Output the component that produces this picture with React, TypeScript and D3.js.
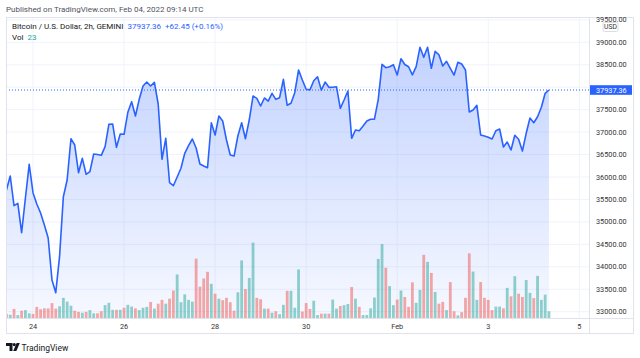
import React from 'react';
import * as d3 from 'd3';

const W = 640;
const H = 358;

// 2h bars, starting Jan 23 2022 10:00 UTC
const startTime = Date.UTC(2022, 0, 23, 10);
const barMs = 2 * 3600 * 1000;

const prices = [
  35710, 36022, 35361, 35414, 34759, 35532, 36283, 35650, 35398, 35198,
  34931, 34641, 33706, 33423, 34225, 35561, 35933, 36853, 36712, 36096,
  36416, 36060, 36118, 36512, 36501, 36483, 36675, 37173, 37180, 36661,
  36957, 36951, 37441, 37677, 37358, 37730, 38026, 38115, 38026, 38109,
  37626, 36394, 36862, 35873, 35806, 36000, 36194, 36528, 36697, 36846,
  36646, 36289, 36245, 36207, 37209, 36935, 37358, 37247, 36824, 36490,
  36467, 36913, 37209, 36853, 37269, 37804, 37752, 37581, 37760, 37692,
  37864, 37730, 37766, 38176, 37597, 37641, 37877, 38383, 38160, 37953,
  37940, 38144, 38233, 37935, 38115, 37997, 38000, 38011, 37530, 37715,
  37915, 36862, 37046, 37031, 37136, 37247, 37285, 37290, 37725, 38510,
  38434, 38456, 38501, 38271, 38634, 38505, 38456, 38275, 38460, 38888,
  38665, 38890, 38421, 38799, 38723, 38472, 38576, 38420, 38270, 38554,
  38516, 38383, 37447, 37492, 37597, 36935, 36913, 36884, 36846, 37031,
  37069, 36668, 36779, 36601, 36930, 36839, 36579, 36973, 37314, 37209,
  37343, 37552, 37864, 37937.36,
];

const volumes = [
  14, 11, 31, 10, 25, 27, 16, 14, 38, 30,
  33, 33, 51, 32, 40, 69, 56, 42, 25, 21,
  18, 21, 27, 16, 16, 23, 44, 52, 28, 28,
  28, 35, 45, 39, 33, 27, 35, 38, 55, 32,
  49, 62, 49, 66, 94, 149, 54, 81, 62, 56,
  203, 107, 135, 158, 117, 83, 66, 61, 69, 54,
  25, 88, 197, 99, 137, 258, 69, 64, 32, 32,
  18, 23, 13, 45, 93, 93, 35, 166, 22, 51,
  31, 59, 10, 15, 15, 15, 63, 32, 41, 44,
  48, 106, 66, 38, 10, 10, 33, 70, 202, 253,
  172, 109, 44, 63, 94, 72, 38, 122, 52, 96,
  216, 192, 154, 89, 49, 55, 27, 123, 23, 9,
  20, 69, 221, 159, 62, 123, 69, 62, 27, 39,
  39, 33, 103, 74, 143, 83, 72, 130, 86, 68,
  144, 62, 80, 23,
];

const priceTicks = [33000, 33500, 34000, 34500, 35000, 35500, 36000, 36500, 37000, 37500, 38000, 38500, 39000, 39500];
const timeTickDates = [
  Date.UTC(2022, 0, 24), Date.UTC(2022, 0, 26), Date.UTC(2022, 0, 28), Date.UTC(2022, 0, 30),
  Date.UTC(2022, 1, 1), Date.UTC(2022, 1, 3), Date.UTC(2022, 1, 5),
];
const timeTickLabels = ['24', '26', '28', '30', 'Feb', '3', '5'];

const headerText = 'Published on TradingView.com, Feb 04, 2022 09:14 UTC';
const symbolText = 'Bitcoin / U.S. Dollar, 2h, GEMINI';
const lastPriceText = '37937.36';
const changeText = '+62.45 (+0.16%)';
const volLabel = 'Vol';
const lastVolText = '23';

const FONT = "Roboto, 'Noto Sans', sans-serif";
const BLUE = '#2962ff';
const TEAL = '#26a69a';
const RED = '#ef5350';
const GRID = '#f0f3fa';
const BORDER = '#e0e3eb';
const TEXT = '#131722';

// layout
const paneL = 6, paneR = 589, paneT = 17, paneB = 318;
const axisB = 334, frameR = 634;

export default function App() {
  const times = prices.map((_, i) => new Date(startTime + i * barMs));
  const x = d3.scaleUtc()
    .domain([new Date(Date.UTC(2022, 0, 24)), new Date(Date.UTC(2022, 1, 5))])
    .range([33, 579.3]);
  const y = d3.scaleLinear().domain([33000, 39000]).range([311.7, 42.3]);
  const yVol = d3.scaleLinear().domain([0, 260]).range([paneB, paneB - 76]);

  const data = prices.map((p, i) => ({ t: times[i], p, v: volumes[i], up: i === 0 ? false : p >= prices[i - 1] }));

  const line = d3.line<any>().x(d => x(d.t)).y(d => y(d.p));
  const area = d3.area<any>().x(d => x(d.t)).y0(paneB).y1(d => y(d.p));
  const topY = y(d3.max(prices) as number);
  const lastP = prices[prices.length - 1];
  const lastY = y(lastP);
  const barW = 2.8;
  const visibleTicks = priceTicks.filter(t => Math.abs(y(t) - lastY) > 9.5);

  return (
    <svg width={W} height={H} style={{ position: 'absolute', left: 0, top: 0, background: '#fff' }} fontFamily={FONT}>
      <defs>
        <linearGradient id="areaGrad" gradientUnits="userSpaceOnUse" x1="0" x2="0" y1={topY} y2={paneB}>
          <stop offset="0" stopColor={BLUE} stopOpacity={0.28} />
          <stop offset="1" stopColor={BLUE} stopOpacity={0.04} />
        </linearGradient>
        <clipPath id="paneClip">
          <rect x={paneL} y={paneT} width={paneR - paneL} height={paneB - paneT} />
        </clipPath>
        <clipPath id="axisClip">
          <rect x={paneR} y={paneT} width={frameR - paneR} height={paneB - paneT} />
        </clipPath>
      </defs>

      <rect x={0} y={0} width={W} height={H} fill="#fff" />

      {/* header */}
      <text x={6} y={11.5} fontSize={8} fill="#50535e">{headerText}</text>

      {/* grid */}
      <g clipPath="url(#paneClip)">
        {priceTicks.map(t => (
          <line key={'h' + t} x1={paneL} x2={paneR} y1={y(t)} y2={y(t)} stroke={GRID} strokeWidth={1} />
        ))}
        {timeTickDates.map(t => (
          <line key={'v' + t} x1={x(new Date(t))} x2={x(new Date(t))} y1={paneT} y2={paneB} stroke={GRID} strokeWidth={1} />
        ))}
        <path d={area(data) || ''} fill="url(#areaGrad)" />
        {data.map((d, i) => (
          <rect key={'b' + i} x={x(d.t) - barW / 2} y={yVol(d.v)} width={barW} height={paneB - yVol(d.v)}
            fill={d.up ? TEAL : RED} fillOpacity={0.5} />
        ))}
        <path d={line(data) || ''} fill="none" stroke={BLUE} strokeWidth={1.6} strokeLinejoin="round" />
        <line x1={paneL} x2={paneR} y1={lastY} y2={lastY} stroke={BLUE} strokeWidth={1} strokeDasharray="1 2" />
      </g>

      {/* legend */}
      <text x={12} y={28.5} fontSize={8} fill={TEXT}>
        {symbolText}
        <tspan dx={4} fill={BLUE}>{lastPriceText}</tspan>
        <tspan dx={4} fill={BLUE}>{changeText}</tspan>
      </text>
      <text x={12} y={40} fontSize={8} fill={TEXT}>
        {volLabel}
        <tspan dx={4} fill={TEAL}>{lastVolText}</tspan>
      </text>

      {/* frame */}
      <rect x={paneL + 0.5} y={paneT + 0.5} width={frameR - paneL - 1} height={axisB - paneT - 1} fill="none" stroke={BORDER} strokeWidth={1} />
      <line x1={paneR + 0.5} x2={paneR + 0.5} y1={paneT} y2={axisB} stroke={BORDER} strokeWidth={1} />
      <line x1={paneL} x2={frameR} y1={paneB + 0.5} y2={paneB + 0.5} stroke={BORDER} strokeWidth={1} />

      {/* price axis */}
      <g clipPath="url(#axisClip)">
        {visibleTicks.map(t => (
          <text key={'pt' + t} x={596} y={y(t)} dy="0.35em" fontSize={7.3} fill="#333">{t.toFixed(2)}</text>
        ))}
      </g>
      <rect x={603} y={22.5} width={15} height={9} rx={1.5} fill="#fff" stroke="#d1d4dc" strokeWidth={0.8} />
      <text x={610.5} y={27} dy="0.35em" textAnchor="middle" fontSize={6.8} fill="#333">USD</text>
      <rect x={590} y={lastY - 4.8} width={42} height={9.6} fill={BLUE} />
      <text x={596} y={lastY} dy="0.35em" fontSize={7.3} fill="#fff">{lastP.toFixed(2)}</text>

      {/* time axis */}
      {timeTickDates.map((t, i) => (
        <text key={'tt' + t} x={x(new Date(t))} y={326.5} dy="0.35em" textAnchor="middle" fontSize={7.3} fill="#333">{timeTickLabels[i]}</text>
      ))}

      {/* logo */}
      <g fill={TEXT}>
        <path d="M6,343 h6.5 v8 h-3 v-5 h-3.5 z" />
        <circle cx={14.2} cy={344.6} r={1.6} />
        <path d="M16.6,343 h3.2 l-3.4,8 h-3.2 z" />
      </g>
      <text x={21.5} y={350.5} fontSize={8.5} fill={TEXT}>TradingView</text>
    </svg>
  );
}
